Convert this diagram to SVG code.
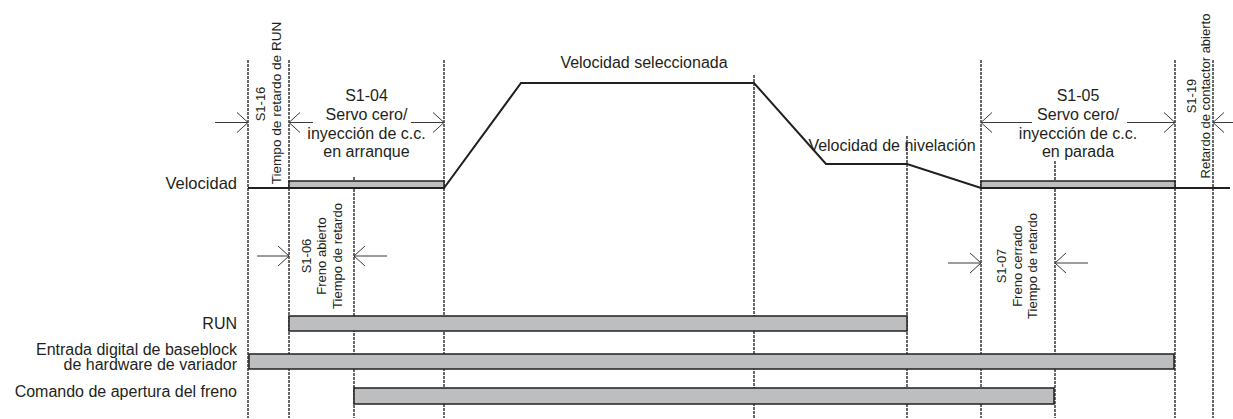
<svg xmlns="http://www.w3.org/2000/svg" width="1233" height="419" viewBox="0 0 1233 419">
<style>
text{font-family:"Liberation Sans",Arial,sans-serif;fill:#231f20}
.lbl{font-size:16px}
.rot{font-size:13px}
.c{text-anchor:middle}
.e{text-anchor:end}
.grid{stroke:#1a1a1a;stroke-width:1.3;stroke-dasharray:3 1;fill:none}
.bar{fill:#bcbec0;stroke:#231f20;stroke-width:1.5}
.prof{fill:none;stroke:#231f20;stroke-width:2;stroke-linejoin:miter}
.arr{stroke:#3a3a3a;stroke-width:1;fill:none;marker-end:url(#ah)}
</style>
<defs>
<marker id="ah" markerUnits="userSpaceOnUse" markerWidth="24" markerHeight="24" viewBox="-12 -12 24 24" refX="0" refY="0" orient="auto">
<path d="M-11,-10 L0,0 L-11,10" fill="none" stroke="#3a3a3a" stroke-width="1"/>
</marker>
</defs>
<rect width="1233" height="419" fill="#fff"/>

<g id="gridlines">
<line class="grid" x1="248" y1="60" x2="248" y2="418"/>
<line class="grid" x1="289" y1="60" x2="289" y2="418"/>
<line class="grid" x1="354" y1="177" x2="354" y2="418"/>
<line class="grid" x1="444" y1="60" x2="444" y2="418"/>
<line class="grid" x1="754" y1="75" x2="754" y2="418"/>
<line class="grid" x1="907" y1="136" x2="907" y2="418"/>
<line class="grid" x1="981" y1="60" x2="981" y2="418"/>
<line class="grid" x1="1055" y1="161" x2="1055" y2="418"/>
<line class="grid" x1="1175" y1="60" x2="1175" y2="418"/>
<line class="grid" x1="1213" y1="60" x2="1213" y2="418"/>
</g>

<g id="bars">
<rect class="bar" x="289" y="181" width="155" height="7"/>
<rect class="bar" x="981" y="181" width="194" height="7"/>
<rect class="bar" x="289" y="316" width="618" height="15"/>
<rect class="bar" x="249" y="354" width="925" height="15"/>
<rect class="bar" x="354" y="388" width="700" height="16"/>
</g>

<g id="speed-profile">
<polyline class="prof" points="248,188 444,188 521,83 754,83 826,164 907,164 981,188 1230,188"/>
</g>

<g id="connectors">
<line class="arr" x1="215" y1="122.5" x2="248" y2="122.5"/>
<line class="arr" x1="313" y1="122.5" x2="289" y2="122.5"/>
<line class="arr" x1="411" y1="122.5" x2="444" y2="122.5"/>
<line class="arr" x1="1032" y1="122.5" x2="981" y2="122.5"/>
<line class="arr" x1="1127" y1="122.5" x2="1175" y2="122.5"/>
<line class="arr" x1="1233" y1="122.5" x2="1213" y2="122.5"/>
<line class="arr" x1="257" y1="256" x2="289" y2="256"/>
<line class="arr" x1="387" y1="256" x2="354" y2="256"/>
<line class="arr" x1="948" y1="263" x2="981" y2="263"/>
<line class="arr" x1="1088" y1="263" x2="1055" y2="263"/>
</g>

<g id="labels-left">
<text class="lbl e" x="237" y="189" style="font-size:16.5px">Velocidad</text>
<text class="lbl e" x="237" y="329">RUN</text>
<text class="lbl e" x="237" y="355">Entrada digital de baseblock</text>
<text class="lbl e" x="237" y="370">de hardware de variador</text>
<text class="lbl e" x="237" y="397">Comando de apertura del freno</text>
</g>

<g id="labels-speed">
<text class="lbl c" x="644" y="68">Velocidad seleccionada</text>
<text class="lbl c" x="892" y="151">Velocidad de nivelación</text>
</g>

<g id="S1-04">
<text class="lbl c" x="366.5" y="101">S1-04</text>
<text class="lbl c" x="366.5" y="120">Servo cero/</text>
<text class="lbl c" x="366.5" y="138.5">inyección de c.c.</text>
<text class="lbl c" x="366.5" y="157">en arranque</text>
</g>

<g id="S1-05">
<text class="lbl c" x="1078" y="101">S1-05</text>
<text class="lbl c" x="1078" y="120">Servo cero/</text>
<text class="lbl c" x="1078" y="138.5">inyección de c.c.</text>
<text class="lbl c" x="1078" y="157">en parada</text>
</g>

<g id="S1-16">
<text class="rot c" transform="translate(265,104) rotate(-90)">S1-16</text>
<text class="rot c" style="font-size:13.6px" transform="translate(281,103) rotate(-90)">Tiempo de retardo de RUN</text>
</g>

<g id="S1-19">
<text class="rot c" transform="translate(1196,96) rotate(-90)">S1-19</text>
<text class="rot c" transform="translate(1210,96) rotate(-90)">Retardo de contactor abierto</text>
</g>

<g id="S1-06">
<text class="rot c" transform="translate(310.5,256) rotate(-90)">S1-06</text>
<text class="rot c" transform="translate(326,256) rotate(-90)">Freno abierto</text>
<text class="rot c" transform="translate(341.5,256) rotate(-90)">Tiempo de retardo</text>
</g>

<g id="S1-07">
<text class="rot c" transform="translate(1006,266) rotate(-90)">S1-07</text>
<text class="rot c" transform="translate(1021.5,266) rotate(-90)">Freno cerrado</text>
<text class="rot c" transform="translate(1037,266) rotate(-90)">Tiempo de retardo</text>
</g>
</svg>
